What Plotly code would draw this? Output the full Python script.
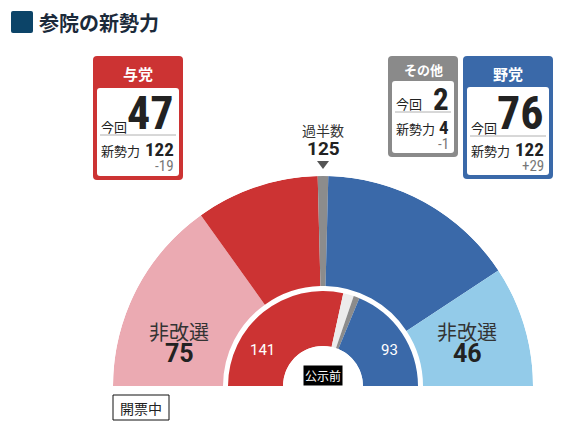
import plotly.graph_objects as go

# --- data ---
outer_labels = ["与党 非改選", "与党 今回", "その他", "野党 今回", "野党 非改選"]
outer_seats = [75, 47, 4, 76, 46]
outer_colors = ["#ebaab2", "#cc3333", "#8c8c8c", "#3a69a9", "#93cbe9"]

inner_labels = ["与党", "欠員", "その他", "野党"]
inner_seats = [141, 9, 5, 93]
inner_colors = ["#cc3333", "#ececec", "#8c8c8c", "#3a69a9"]

total_seats = 248
majority = 125

box_names = ["与党", "その他", "野党"]
box_now = [47, 2, 76]
box_new = [122, 4, 122]
box_diff = [-19, -1, 29]

# page has an 8px body margin, so the figure is 16px smaller than the window
OFF = 8
W, H = 576 - 2 * OFF, 434 - 2 * OFF
CJK = "Noto Sans CJK JP"
NUM = "Roboto Condensed, Open Sans Condensed, sans-serif"


def wedges(seats):
    scale = 180.0 / total_seats
    theta, width, start = [], [], 0
    for s in seats:
        theta.append((start + s / 2) * scale)
        width.append(s * scale)
        start += s
    return theta, width


fig = go.Figure()

th, wd = wedges(outer_seats)
fig.add_trace(go.Barpolar(
    theta=th, width=wd, r=[110] * len(outer_seats), base=[100] * len(outer_seats),
    marker=dict(color=outer_colors, line=dict(width=0)),
    text=outer_labels, hovertemplate="%{text}<extra></extra>", showlegend=False,
))
th, wd = wedges(inner_seats)
fig.add_trace(go.Barpolar(
    theta=th, width=wd, r=[55] * len(inner_seats), base=[40] * len(inner_seats),
    marker=dict(color=inner_colors, line=dict(width=0)),
    text=inner_labels, hovertemplate="%{text}<extra></extra>", showlegend=False,
))


def rrect(x0, y0, x1, y1, r=4):
    return (f"M{x0+r},{y0} L{x1-r},{y0} Q{x1},{y0} {x1},{y0+r} L{x1},{y1-r} "
            f"Q{x1},{y1} {x1-r},{y1} L{x0+r},{y1} Q{x0},{y1} {x0},{y1-r} "
            f"L{x0},{y0+r} Q{x0},{y0} {x0+r},{y0} Z")


shapes = []
ann = []


def text(x, y, s, size, color="#222", family=CJK, xanchor="center", bold=False, **kw):
    if bold:
        s = "<b>" + s + "</b>"
    ann.append(dict(x=x, y=y, xref="x", yref="y", text=s, showarrow=False,
                    font=dict(size=size, color=color, family=family),
                    xanchor=xanchor, yanchor="middle", **kw))


# title
shapes.append(dict(type="path", path=rrect(11, 11, 33, 33, 2), xref="x", yref="y",
                   fillcolor="#0c4468", line=dict(width=0)))
text(37, 22, "参院の新勢力", 20, color="#1b2a3a", xanchor="left", bold=True)

# party boxes
boxes = [
    dict(o=(93, 56, 183, 180), i=(97, 88, 179, 176), hy=73, col="#cc3333", big=46,
         ny=113, ky=126, sep=135, ry=149, dy=165),
    dict(o=(388, 56, 458, 157), i=(392, 81, 454, 153), hy=69, col="#8a8a8a", big=31,
         ny=99, ky=103, sep=112, ry=127, dy=143),
    dict(o=(463, 56, 553, 179), i=(467, 87, 549, 175), hy=73, col="#3a69a9", big=46,
         ny=113, ky=127, sep=136, ry=149, dy=165),
]
for b, name, now, new, diff in zip(boxes, box_names, box_now, box_new, box_diff):
    x0, y0, x1, y1 = b["o"]
    ix0, iy0, ix1, iy1 = b["i"]
    shapes.append(dict(type="path", path=rrect(x0, y0, x1, y1, 4), xref="x", yref="y",
                       fillcolor=b["col"], line=dict(width=0)))
    shapes.append(dict(type="path", path=rrect(ix0, iy0, ix1, iy1, 3), xref="x", yref="y",
                       fillcolor="white", line=dict(width=0)))
    shapes.append(dict(type="line", x0=ix0 + 3, x1=ix1 - 3, y0=b["sep"], y1=b["sep"],
                       xref="x", yref="y", line=dict(color="#b0b0b0", width=1)))
    text((x0 + x1) / 2, b["hy"], name, 15 if len(name) == 2 else 13, color="white", bold=True)
    text(ix0 + 2, b["ky"], "今回", 13, xanchor="left")
    text(ix1 - 3, b["ny"], str(now), b["big"], family=NUM, xanchor="right", bold=True)
    text(ix0 + 2, b["ry"] + 1, "新勢力", 13, xanchor="left")
    text(ix1 - 3, b["ry"], str(new), 19, family=NUM, xanchor="right", bold=True)
    text(ix1 - 3, b["dy"] + 1, f"{diff:+d}", 15, color="#777", family=NUM, xanchor="right")

# majority marker
text(323, 130, "過半数", 14, color="#333")
text(323, 148, str(majority), 19, color="#222", family="Roboto, sans-serif", bold=True)
shapes.append(dict(type="path", path="M317,161 L329,161 L323,169 Z", xref="x", yref="y",
                   fillcolor="#555", line=dict(width=0)))

# ring labels
text(179, 331, "非改選", 20, color="#333")
text(179, 353, str(outer_seats[0]), 25, color="#222", family="Roboto, sans-serif", bold=True)
text(467, 331, "非改選", 20, color="#333")
text(467, 353, str(outer_seats[-1]), 25, color="#222", family="Roboto, sans-serif", bold=True)
text(262, 350, str(inner_seats[0]), 15, color="white", family="Roboto, sans-serif")
text(389, 350, str(inner_seats[-1]), 15, color="white", family="Roboto, sans-serif")
text(323, 375, "公示前", 12, color="white", bgcolor="black", borderpad=1)

# counting status
shapes.append(dict(type="rect", x0=113, y0=395, x1=169, y1=420, xref="x", yref="y",
                   line=dict(color="#111", width=1), fillcolor="white"))
text(141, 408, "開票中", 14, color="#222")

fig.update_layout(
    width=W, height=H,
    margin=dict(l=0, r=0, t=0, b=0),
    paper_bgcolor="white", plot_bgcolor="white",
    # axes in window pixel units, shifted by the body margin
    xaxis=dict(range=[OFF, OFF + W], visible=False, domain=[0, 1], fixedrange=True),
    yaxis=dict(range=[OFF + H, OFF], visible=False, domain=[0, 1], fixedrange=True),
    polar=dict(
        domain=dict(x=[(113 - OFF) / W, (533 - OFF) / W],
                    y=[(OFF + H - 386) / H, (OFF + H - 176) / H]),
        sector=[0, 180], hole=40 / 210, bgcolor="white", bargap=0,
        radialaxis=dict(range=[40, 210], visible=False),
        angularaxis=dict(direction="clockwise", rotation=180, visible=False),
    ),
    shapes=shapes, annotations=ann,
)

fig.write_html("out.html")
